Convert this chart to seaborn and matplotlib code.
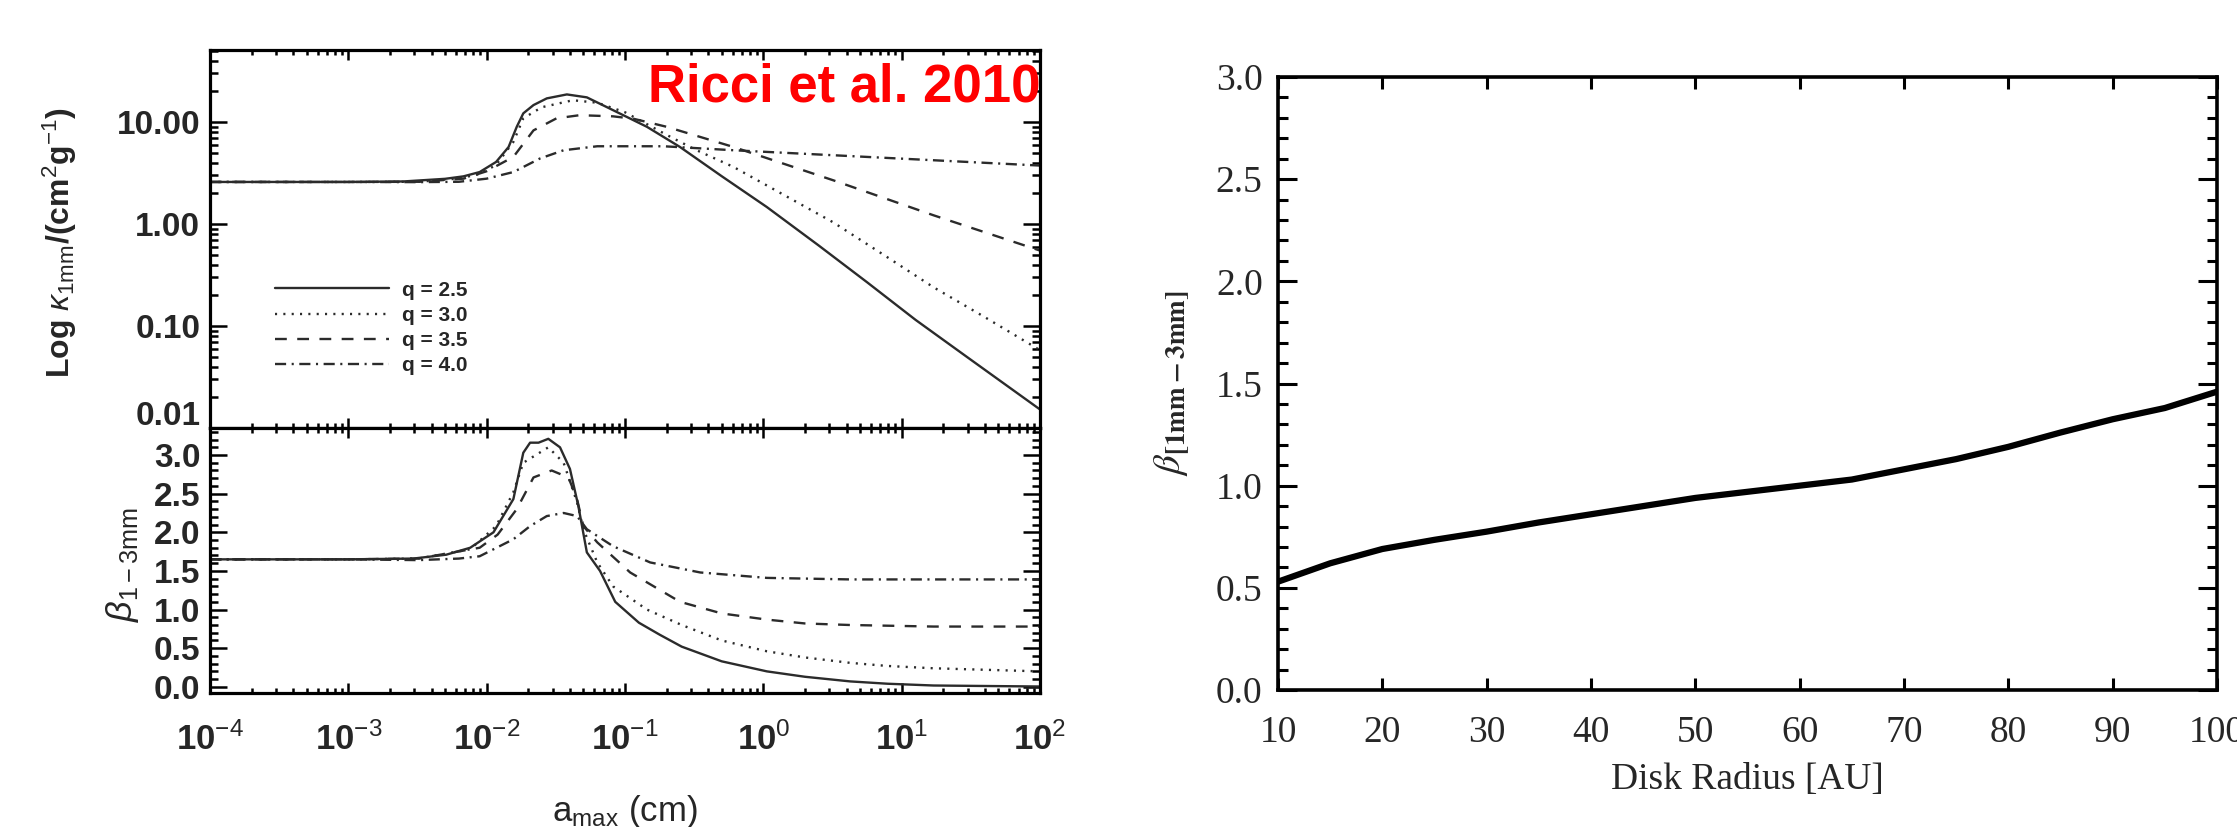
import numpy as np
import pandas as pd
import matplotlib
matplotlib.use("Agg")
import matplotlib.pyplot as plt
import matplotlib.ticker as mticker
import matplotlib.transforms as mtrans
from matplotlib.lines import Line2D
import seaborn as sns

# ---------------- data: left panels (Ricci et al. 2010) ----------------
q_labels = ["q = 2.5", "q = 3.0", "q = 3.5", "q = 4.0"]

# opacity kappa_1mm vs a_max
kap_a_q25 = [1e-4, 1e-3, 2.5e-3, 5.0e-3, 6.8e-3, 8.9e-3, 1.17e-2, 1.44e-2, 1.65e-2, 1.84e-2,
             2.18e-2, 2.72e-2, 3.8e-2, 5.3e-2, 8.2e-2, 0.144, 0.25, 0.5, 1.06, 2.5,
             5.6, 12.6, 29.5, 100]
kap_q25 = [2.59, 2.59, 2.62, 2.78, 2.94, 3.24, 4.07, 5.7, 9.0, 12.2,
           14.7, 17.1, 18.7, 17.5, 13.1, 9.0, 5.7, 2.95, 1.47, 0.62,
           0.27, 0.115, 0.05, 0.0152]

kap_a_q30 = [1e-4, 1e-3, 3.2e-3, 6.3e-3, 8.9e-3, 1.17e-2, 1.56e-2, 1.84e-2, 2.5e-2, 4.2e-2,
             6.3e-2, 0.1, 0.2, 0.32, 0.61, 1.41, 3.2, 7.4, 17, 40, 100]
kap_q30 = [2.59, 2.59, 2.6, 2.8, 3.1, 3.8, 6.4, 10.9, 14.0, 16.4,
           15.5, 12.5, 7.5, 5.4, 3.63, 1.93, 1.04, 0.50, 0.24, 0.122, 0.058]

kap_a_q35 = [1e-4, 1e-3, 3.2e-3, 6.8e-3, 1.0e-2, 1.56e-2, 2.18e-2, 3.2e-2, 4.7e-2, 8.2e-2,
             0.115, 0.2, 0.61, 3.2, 17, 100]
kap_q35 = [2.59, 2.59, 2.6, 2.79, 3.3, 4.56, 8.3, 10.9, 11.7, 11.4,
           10.8, 9.0, 5.7, 2.69, 1.22, 0.55]

kap_a_q40 = [1e-4, 1e-3, 3.2e-3, 6.3e-3, 1.0e-2, 1.56e-2, 2.43e-2, 3.6e-2, 6.3e-2, 0.19,
             0.61, 5.6, 100]
kap_q40 = [2.59, 2.59, 2.58, 2.6, 2.79, 3.24, 4.4, 5.3, 5.8, 5.8,
           5.3, 4.56, 3.75]

# spectral index beta_1-3mm vs a_max
bet_a_q25 = [1e-4, 1e-3, 2.95e-3, 5.1e-3, 7.6e-3, 1.12e-2, 1.56e-2, 1.84e-2, 2.06e-2, 2.37e-2,
             2.79e-2, 3.39e-2, 4.0e-2, 4.6e-2, 5.3e-2, 6.6e-2, 8.5e-2, 0.126, 0.178, 0.257,
             0.5, 1.06, 2.0, 4.25, 7.9, 17, 100]
bet_q25 = [1.65, 1.65, 1.66, 1.71, 1.80, 2.0, 2.43, 3.03, 3.16, 3.16,
           3.21, 3.10, 2.82, 2.34, 1.74, 1.50, 1.10, 0.83, 0.675, 0.52,
           0.33, 0.20, 0.13, 0.07, 0.04, 0.017, 0.004]

bet_a_q30 = [1e-4, 1e-3, 3.2e-3, 7.6e-3, 1.17e-2, 1.56e-2, 1.84e-2, 2.79e-2, 3.6e-2, 4.5e-2,
             5.0e-2, 6.3e-2, 8.2e-2, 0.144, 0.257, 0.5, 1.06, 2.0, 4.25, 7.9, 17, 100]
bet_q30 = [1.65, 1.65, 1.66, 1.78, 2.08, 2.52, 2.90, 3.10, 2.90, 2.39,
           2.04, 1.61, 1.30, 1.0, 0.80, 0.60, 0.46, 0.38, 0.31, 0.27, 0.24, 0.20]

bet_a_q35 = [1e-4, 1e-3, 3.2e-3, 8.9e-3, 1.2e-2, 1.65e-2, 2.18e-2, 2.95e-2, 3.9e-2, 4.5e-2,
             5.0e-2, 6.3e-2, 0.109, 0.25, 0.5, 1.06, 2.0, 4.25, 17, 100]
bet_q35 = [1.65, 1.65, 1.66, 1.80, 1.97, 2.30, 2.71, 2.80, 2.71, 2.43,
           2.08, 1.87, 1.48, 1.10, 0.95, 0.87, 0.82, 0.80, 0.78, 0.78]

bet_a_q40 = [1e-4, 1e-3, 3.2e-3, 6.3e-3, 8.9e-3, 1.56e-2, 2.06e-2, 2.72e-2, 3.6e-2, 4.5e-2,
             5.3e-2, 8.2e-2, 0.152, 0.35, 1.06, 4.25, 100]
bet_q40 = [1.65, 1.65, 1.64, 1.66, 1.69, 1.91, 2.08, 2.21, 2.25, 2.21,
           2.04, 1.82, 1.61, 1.48, 1.41, 1.39, 1.39]

# ---------------- data: right panel ----------------
radius_au = [10, 15, 20, 25, 30, 35, 40, 45, 50, 55, 60, 65, 70, 75, 80, 85, 90, 95, 100]
beta_radius = [0.53, 0.62, 0.69, 0.735, 0.775, 0.82, 0.86, 0.90, 0.94, 0.97,
               1.0, 1.03, 1.08, 1.13, 1.19, 1.26, 1.325, 1.38, 1.46]

kap_ticks = [0.01, 0.1, 1.0, 10.0]
kap_tick_labels = ["0.01", "0.10", "1.00", "10.00"]
amax_ticks = [1e-4, 1e-3, 1e-2, 1e-1, 1e0, 1e1, 1e2]
amax_tick_labels = [r"10$^{-4}$", r"10$^{-3}$", r"10$^{-2}$", r"10$^{-1}$",
                    r"10$^{0}$", r"10$^{1}$", r"10$^{2}$"]
radius_ticks = [10, 20, 30, 40, 50, 60, 70, 80, 90, 100]

# ---------------- build long tables ----------------
def long_table(pairs, yname):
    frames = []
    for lab, (xs, ys) in zip(q_labels, pairs):
        frames.append(pd.DataFrame({"a": xs, yname: ys, "q": lab}))
    return pd.concat(frames, ignore_index=True)

df_kap = long_table([(kap_a_q25, kap_q25), (kap_a_q30, kap_q30),
                     (kap_a_q35, kap_q35), (kap_a_q40, kap_q40)], "kappa")
df_bet = long_table([(bet_a_q25, bet_q25), (bet_a_q30, bet_q30),
                     (bet_a_q35, bet_q35), (bet_a_q40, bet_q40)], "beta")
df_rad = pd.DataFrame({"R": radius_au, "beta": beta_radius})

# ---------------- style ----------------
sns.set_style("ticks")
plt.rcParams["font.family"] = ["Liberation Sans", "DejaVu Sans"]
plt.rcParams["lines.scale_dashes"] = False
plt.rcParams["mathtext.fontset"] = "custom"
plt.rcParams["mathtext.rm"] = "Liberation Sans"
plt.rcParams["mathtext.it"] = "Liberation Sans:italic"
plt.rcParams["mathtext.bf"] = "Liberation Sans:bold"

dash_map = {"q = 2.5": "", "q = 3.0": (1.5, 4.5), "q = 3.5": (8.5, 7.5),
            "q = 4.0": (8, 4, 1.5, 4)}
curve_color = "#2b2b2b"
curve_lw = 1.7

fig = plt.figure(figsize=(22.37, 8.27), dpi=100)
W, H = 2237.0, 827.0
ax1 = fig.add_axes([210 / W, 1 - 428 / H, 830 / W, 378 / H])
ax2 = fig.add_axes([210 / W, 1 - 693 / H, 830 / W, 265 / H])
ax3 = fig.add_axes([1278 / W, 1 - 690 / H, 939 / W, 613 / H])

for ax in (ax1, ax2):
    ax.set_xscale("log")
ax1.set_yscale("log")

sns.lineplot(data=df_kap, x="a", y="kappa", style="q", style_order=q_labels,
             dashes=dash_map, color=curve_color, linewidth=curve_lw, estimator=None,
             sort=False, legend=False, ax=ax1)
sns.lineplot(data=df_bet, x="a", y="beta", style="q", style_order=q_labels,
             dashes=dash_map, color=curve_color, linewidth=curve_lw, estimator=None,
             sort=False, legend=False, ax=ax2)
sns.lineplot(data=df_rad, x="R", y="beta", color="black", linewidth=4.5,
             estimator=None, sort=False, legend=False, ax=ax3)

# ---------- left top ----------
ax1.set_xlim(1e-4, 1e2)
ax1.set_ylim(0.01, 51)
ax1.yaxis.set_major_locator(mticker.FixedLocator(kap_ticks))
ax1.yaxis.set_major_formatter(mticker.FixedFormatter(kap_tick_labels))
ax1.yaxis.set_minor_locator(mticker.LogLocator(base=10, subs=np.arange(2, 10), numticks=20))
ax1.yaxis.set_minor_formatter(mticker.NullFormatter())
ax1.xaxis.set_major_locator(mticker.FixedLocator(amax_ticks))
ax1.xaxis.set_minor_locator(mticker.LogLocator(base=10, subs=np.arange(2, 10), numticks=20))
ax1.xaxis.set_major_formatter(mticker.NullFormatter())
ax1.xaxis.set_minor_formatter(mticker.NullFormatter())
ax1.set_xlabel("")
ax1.set_ylabel(r"Log $\kappa_{\rm 1mm}$/(cm$^{2}$g$^{-1}$)", fontsize=23, fontweight="bold")
ax1.yaxis.set_label_coords(-0.158, 0.49)

# ---------- left bottom ----------
ax2.set_xlim(1e-4, 1e2)
ax2.set_ylim(-0.08, 3.35)
ax2.yaxis.set_major_locator(mticker.MultipleLocator(0.5))
ax2.yaxis.set_minor_locator(mticker.MultipleLocator(0.1))
ax2.yaxis.set_major_formatter(mticker.FormatStrFormatter("%.1f"))
ax2.xaxis.set_major_locator(mticker.FixedLocator(amax_ticks))
ax2.xaxis.set_major_formatter(mticker.FixedFormatter(amax_tick_labels))
ax2.xaxis.set_minor_locator(mticker.LogLocator(base=10, subs=np.arange(2, 10), numticks=20))
ax2.xaxis.set_minor_formatter(mticker.NullFormatter())
ax2.set_xlabel(r"a$_{\rm max}$ (cm)", fontsize=25, labelpad=26)
ax2.set_ylabel(r"$\beta_{\rm 1-3mm}$", fontsize=26)
ax2.yaxis.set_label_coords(-0.083, 0.487)

for ax in (ax1, ax2):
    for s in ax.spines.values():
        s.set_linewidth(2.3)
        s.set_color("black")
    ax.tick_params(which="both", direction="in", top=True, right=True,
                   bottom=True, left=True, color="black", width=1.8)
    ax.tick_params(axis="x", which="major", length=7)
    ax.tick_params(axis="x", which="minor", length=3.5)
    ax.tick_params(axis="y", which="major", length=12)
    ax.tick_params(axis="y", which="minor", length=6)
    ax.tick_params(axis="y", which="major", labelsize=24, pad=7)
    for lab in ax.get_yticklabels():
        lab.set_fontweight("bold")
ax2.tick_params(axis="x", which="major", labelsize=25, pad=21)
for lab in ax2.get_xticklabels():
    lab.set_fontweight("bold")

# raise the lowest opacity label like in the original
for lab in ax1.get_yticklabels():
    if lab.get_text() == "0.01":
        lab.set_transform(lab.get_transform() +
                          mtrans.ScaledTranslation(0, 0.15, fig.dpi_scale_trans))

# legend
handles = [Line2D([0], [0], color=curve_color, linewidth=curve_lw, linestyle="-")]
for lab in q_labels[1:]:
    handles.append(Line2D([0], [0], color=curve_color, linewidth=curve_lw,
                          dashes=dash_map[lab]))
leg = ax1.legend(handles=handles, labels=q_labels, loc="upper left",
                 bbox_to_anchor=(0.078, 0.39), frameon=False, borderaxespad=0,
                 borderpad=0, handlelength=5.5, handletextpad=0.6,
                 labelspacing=0.3, prop={"family": "Liberation Sans", "size": 15,
                                         "weight": "bold"})

fig.text(1040 / W, 1 - 101 / H, "Ricci et al. 2010", color="#ff0000",
         fontsize=38, fontweight="bold", ha="right", va="baseline",
         family="Liberation Sans", zorder=10)

# ---------- right panel ----------
serif = "Liberation Serif"
ax3.set_xlim(10, 100)
ax3.set_ylim(0, 3.0)
ax3.xaxis.set_major_locator(mticker.FixedLocator(radius_ticks))
ax3.xaxis.set_major_formatter(mticker.FormatStrFormatter("%d"))
ax3.xaxis.set_minor_locator(mticker.NullLocator())
ax3.yaxis.set_major_locator(mticker.MultipleLocator(0.5))
ax3.yaxis.set_minor_locator(mticker.MultipleLocator(0.1))
ax3.yaxis.set_major_formatter(mticker.FormatStrFormatter("%.1f"))
ax3.xaxis.set_ticks_position("both")
ax3.yaxis.set_ticks_position("both")
for s in ax3.spines.values():
    s.set_linewidth(2.6)
    s.set_color("black")
ax3.tick_params(which="both", direction="in", top=True, right=True, bottom=True,
                left=True, color="black", width=2.2)
ax3.tick_params(axis="x", which="major", length=8.5, labelsize=27, pad=18)
ax3.tick_params(axis="y", which="major", length=13.5, labelsize=27, pad=11)
ax3.tick_params(axis="y", which="minor", length=7)
for lab in ax3.get_xticklabels() + ax3.get_yticklabels():
    lab.set_family(serif)
ax3.set_xlabel("Disk Radius [AU]", fontsize=27, family=serif, labelpad=9)
ax3.set_ylabel(r"$\beta_{\mathbf{[1mm-3mm]}}$", fontsize=28, math_fontfamily="stix")
ax3.yaxis.set_label_coords(-0.093, 0.5)

fig.savefig("out.png", dpi=100, facecolor="white")
